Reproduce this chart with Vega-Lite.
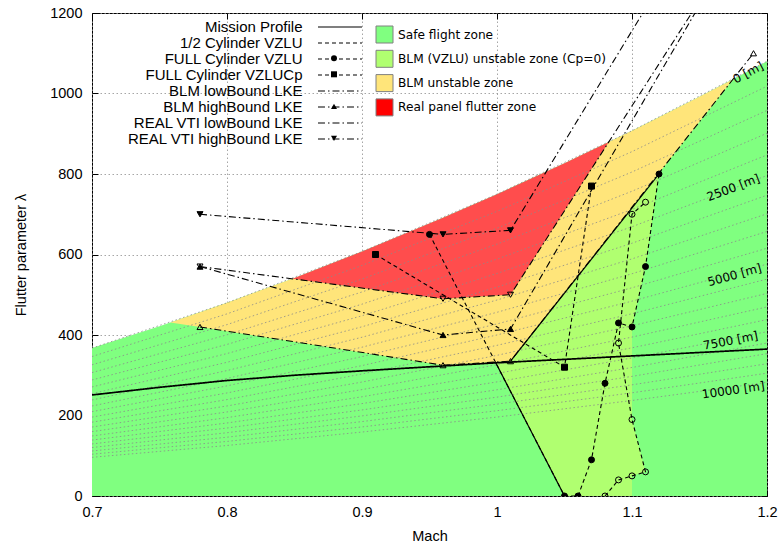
{
  "$schema": "https://vega.github.io/schema/vega-lite/v6.json",
  "width": 675,
  "height": 483,
  "autosize": {"type": "none"},
  "padding": {"left": 92, "top": 13, "right": 12, "bottom": 48},
  "background": "white",
  "config": {
    "view": {"stroke": "black", "strokeWidth": 1},
    "axis": {
      "domain": false, "tickColor": "black", "tickSize": -6, "tickWidth": 1,
      "labelFont": "Liberation Sans", "labelFontSize": 14.5, "labelColor": "black",
      "titleFont": "Liberation Sans", "titleFontSize": 14.5, "titleFontWeight": "normal", "titleColor": "black",
      "gridColor": "#8f8f8f", "gridDash": [1.5, 2.5], "gridWidth": 0.8, "zindex": 1
    },
    "legend": {"padding": 0, "offset": 0}
  },
  "datasets": {
    "zy": [
      {"zone": "Safe flight zone", "M": 0.7, "lo": 0, "hi": 367.5},
      {"zone": "Safe flight zone", "M": 0.75, "lo": 0, "hi": 421.9},
      {"zone": "Safe flight zone", "M": 0.8, "lo": 0, "hi": 480},
      {"zone": "Safe flight zone", "M": 0.85, "lo": 0, "hi": 541.9},
      {"zone": "Safe flight zone", "M": 0.9, "lo": 0, "hi": 607.5},
      {"zone": "Safe flight zone", "M": 0.95, "lo": 0, "hi": 676.9},
      {"zone": "Safe flight zone", "M": 1.0, "lo": 0, "hi": 750},
      {"zone": "Safe flight zone", "M": 1.05, "lo": 0, "hi": 826.9},
      {"zone": "Safe flight zone", "M": 1.1, "lo": 0, "hi": 907.5},
      {"zone": "Safe flight zone", "M": 1.15, "lo": 0, "hi": 991.9},
      {"zone": "Safe flight zone", "M": 1.2, "lo": 0, "hi": 1080},
      {"zone": "BLM unstable zone", "M": 0.758, "lo": 431, "hi": 431},
      {"zone": "BLM unstable zone", "M": 0.78, "lo": 420, "hi": 456.3},
      {"zone": "BLM unstable zone", "M": 0.8, "lo": 409.4, "hi": 480},
      {"zone": "BLM unstable zone", "M": 0.8485, "lo": 383.8, "hi": 539.9},
      {"zone": "BLM unstable zone", "M": 0.9, "lo": 356.7, "hi": 516.7},
      {"zone": "BLM unstable zone", "M": 0.96, "lo": 325, "hi": 490},
      {"zone": "BLM unstable zone", "M": 1.0, "lo": 333, "hi": 498},
      {"zone": "BLM unstable zone", "M": 1.01, "lo": 335, "hi": 500},
      {"zone": "BLM unstable zone", "M": 1.05, "lo": 505, "hi": 708.6},
      {"zone": "BLM unstable zone", "M": 1.0828, "lo": 644.4, "hi": 879.4},
      {"zone": "BLM unstable zone", "M": 1.1, "lo": 717.5, "hi": 907.5},
      {"zone": "BLM unstable zone", "M": 1.12, "lo": 802.5, "hi": 940.8},
      {"zone": "BLM unstable zone", "M": 1.15, "lo": 930, "hi": 991.9},
      {"zone": "BLM unstable zone", "M": 1.1748, "lo": 1035, "hi": 1035},
      {"zone": "Real panel flutter zone", "M": 0.8485, "lo": 539.6, "hi": 539.9},
      {"zone": "Real panel flutter zone", "M": 0.9, "lo": 516.7, "hi": 607.5},
      {"zone": "Real panel flutter zone", "M": 0.96, "lo": 490, "hi": 691.2},
      {"zone": "Real panel flutter zone", "M": 1.0, "lo": 498, "hi": 750},
      {"zone": "Real panel flutter zone", "M": 1.01, "lo": 500, "hi": 765.1},
      {"zone": "Real panel flutter zone", "M": 1.05, "lo": 708.6, "hi": 826.9},
      {"zone": "Real panel flutter zone", "M": 1.0828, "lo": 879.5, "hi": 879.5}
    ],
    "zx": [
      {"zone": "BLM (VZLU) unstable zone (Cp=0)", "lam": 0, "xl": 1.05, "xr": 1.10},
      {"zone": "BLM (VZLU) unstable zone (Cp=0)", "lam": 50, "xl": 1.0422, "xr": 1.10},
      {"zone": "BLM (VZLU) unstable zone (Cp=0)", "lam": 60, "xl": 1.0406, "xr": 1.11},
      {"zone": "BLM (VZLU) unstable zone (Cp=0)", "lam": 190, "xl": 1.0203, "xr": 1.10},
      {"zone": "BLM (VZLU) unstable zone (Cp=0)", "lam": 333, "xl": 0.9988, "xr": 1.10},
      {"zone": "BLM (VZLU) unstable zone (Cp=0)", "lam": 335, "xl": 1.01, "xr": 1.10},
      {"zone": "BLM (VZLU) unstable zone (Cp=0)", "lam": 420, "xl": 1.0301, "xr": 1.10},
      {"zone": "BLM (VZLU) unstable zone (Cp=0)", "lam": 570, "xl": 1.0656, "xr": 1.11},
      {"zone": "BLM (VZLU) unstable zone (Cp=0)", "lam": 800, "xl": 1.12, "xr": 1.12}
    ],
    "alt": [
      {"h": 0, "M": 0.7, "lam": 367.5}, {"h": 0, "M": 0.8, "lam": 480}, {"h": 0, "M": 0.9, "lam": 607.5}, {"h": 0, "M": 1.0, "lam": 750}, {"h": 0, "M": 1.1, "lam": 907.5}, {"h": 0, "M": 1.2, "lam": 1080},
      {"h": 500, "M": 0.7, "lam": 346.5}, {"h": 500, "M": 0.8, "lam": 452.5}, {"h": 500, "M": 0.9, "lam": 572.8}, {"h": 500, "M": 1.0, "lam": 707.1}, {"h": 500, "M": 1.1, "lam": 855.6}, {"h": 500, "M": 1.2, "lam": 1018.2},
      {"h": 1000, "M": 0.7, "lam": 326}, {"h": 1000, "M": 0.8, "lam": 425.8}, {"h": 1000, "M": 0.9, "lam": 538.9}, {"h": 1000, "M": 1.0, "lam": 665.3}, {"h": 1000, "M": 1.1, "lam": 805}, {"h": 1000, "M": 1.2, "lam": 958},
      {"h": 1500, "M": 0.7, "lam": 306.6}, {"h": 1500, "M": 0.8, "lam": 400.5}, {"h": 1500, "M": 0.9, "lam": 506.9}, {"h": 1500, "M": 1.0, "lam": 625.8}, {"h": 1500, "M": 1.1, "lam": 757.2}, {"h": 1500, "M": 1.2, "lam": 901.2},
      {"h": 2000, "M": 0.7, "lam": 288.3}, {"h": 2000, "M": 0.8, "lam": 376.6}, {"h": 2000, "M": 0.9, "lam": 476.6}, {"h": 2000, "M": 1.0, "lam": 588.5}, {"h": 2000, "M": 1.1, "lam": 712}, {"h": 2000, "M": 1.2, "lam": 847.4},
      {"h": 2500, "M": 0.7, "lam": 270.9}, {"h": 2500, "M": 0.8, "lam": 353.9}, {"h": 2500, "M": 0.9, "lam": 447.8}, {"h": 2500, "M": 1.0, "lam": 552.9}, {"h": 2500, "M": 1.1, "lam": 669}, {"h": 2500, "M": 1.2, "lam": 796.2},
      {"h": 3000, "M": 0.7, "lam": 254.3}, {"h": 3000, "M": 0.8, "lam": 332.2}, {"h": 3000, "M": 0.9, "lam": 420.4}, {"h": 3000, "M": 1.0, "lam": 519}, {"h": 3000, "M": 1.1, "lam": 628}, {"h": 3000, "M": 1.2, "lam": 747.4},
      {"h": 3500, "M": 0.7, "lam": 238.6}, {"h": 3500, "M": 0.8, "lam": 311.6}, {"h": 3500, "M": 0.9, "lam": 394.4}, {"h": 3500, "M": 1.0, "lam": 486.9}, {"h": 3500, "M": 1.1, "lam": 589.1}, {"h": 3500, "M": 1.2, "lam": 701.1},
      {"h": 4000, "M": 0.7, "lam": 223.6}, {"h": 4000, "M": 0.8, "lam": 292.1}, {"h": 4000, "M": 0.9, "lam": 369.7}, {"h": 4000, "M": 1.0, "lam": 456.4}, {"h": 4000, "M": 1.1, "lam": 552.2}, {"h": 4000, "M": 1.2, "lam": 657.2},
      {"h": 4500, "M": 0.7, "lam": 209.5}, {"h": 4500, "M": 0.8, "lam": 273.6}, {"h": 4500, "M": 0.9, "lam": 346.3}, {"h": 4500, "M": 1.0, "lam": 427.5}, {"h": 4500, "M": 1.1, "lam": 517.3}, {"h": 4500, "M": 1.2, "lam": 615.6},
      {"h": 5000, "M": 0.7, "lam": 196}, {"h": 5000, "M": 0.8, "lam": 256}, {"h": 5000, "M": 0.9, "lam": 324}, {"h": 5000, "M": 1.0, "lam": 400.1}, {"h": 5000, "M": 1.1, "lam": 484.1}, {"h": 5000, "M": 1.2, "lam": 576.1},
      {"h": 5500, "M": 0.7, "lam": 183.4}, {"h": 5500, "M": 0.8, "lam": 239.5}, {"h": 5500, "M": 0.9, "lam": 303.1}, {"h": 5500, "M": 1.0, "lam": 374.3}, {"h": 5500, "M": 1.1, "lam": 452.8}, {"h": 5500, "M": 1.2, "lam": 538.9},
      {"h": 6000, "M": 0.7, "lam": 171.3}, {"h": 6000, "M": 0.8, "lam": 223.7}, {"h": 6000, "M": 0.9, "lam": 283.1}, {"h": 6000, "M": 1.0, "lam": 349.5}, {"h": 6000, "M": 1.1, "lam": 422.9}, {"h": 6000, "M": 1.2, "lam": 503.3},
      {"h": 6500, "M": 0.7, "lam": 159.9}, {"h": 6500, "M": 0.8, "lam": 208.8}, {"h": 6500, "M": 0.9, "lam": 264.3}, {"h": 6500, "M": 1.0, "lam": 326.3}, {"h": 6500, "M": 1.1, "lam": 394.8}, {"h": 6500, "M": 1.2, "lam": 469.8},
      {"h": 7000, "M": 0.7, "lam": 149.1}, {"h": 7000, "M": 0.8, "lam": 194.7}, {"h": 7000, "M": 0.9, "lam": 246.5}, {"h": 7000, "M": 1.0, "lam": 304.3}, {"h": 7000, "M": 1.1, "lam": 368.2}, {"h": 7000, "M": 1.2, "lam": 438.2},
      {"h": 7500, "M": 0.7, "lam": 138.9}, {"h": 7500, "M": 0.8, "lam": 181.4}, {"h": 7500, "M": 0.9, "lam": 229.6}, {"h": 7500, "M": 1.0, "lam": 283.5}, {"h": 7500, "M": 1.1, "lam": 343}, {"h": 7500, "M": 1.2, "lam": 408.2},
      {"h": 8000, "M": 0.7, "lam": 129.3}, {"h": 8000, "M": 0.8, "lam": 168.9}, {"h": 8000, "M": 0.9, "lam": 213.8}, {"h": 8000, "M": 1.0, "lam": 263.9}, {"h": 8000, "M": 1.1, "lam": 319.3}, {"h": 8000, "M": 1.2, "lam": 380.1},
      {"h": 8500, "M": 0.7, "lam": 120.4}, {"h": 8500, "M": 0.8, "lam": 157.2}, {"h": 8500, "M": 0.9, "lam": 199}, {"h": 8500, "M": 1.0, "lam": 245.6}, {"h": 8500, "M": 1.1, "lam": 297.2}, {"h": 8500, "M": 1.2, "lam": 353.7},
      {"h": 9000, "M": 0.7, "lam": 111.8}, {"h": 9000, "M": 0.8, "lam": 146.1}, {"h": 9000, "M": 0.9, "lam": 184.9}, {"h": 9000, "M": 1.0, "lam": 228.2}, {"h": 9000, "M": 1.1, "lam": 276.2}, {"h": 9000, "M": 1.2, "lam": 328.6},
      {"h": 9500, "M": 0.7, "lam": 103.8}, {"h": 9500, "M": 0.8, "lam": 135.6}, {"h": 9500, "M": 0.9, "lam": 171.6}, {"h": 9500, "M": 1.0, "lam": 211.9}, {"h": 9500, "M": 1.1, "lam": 256.4}, {"h": 9500, "M": 1.2, "lam": 305.1},
      {"h": 10000, "M": 0.7, "lam": 96.1}, {"h": 10000, "M": 0.8, "lam": 125.5}, {"h": 10000, "M": 0.9, "lam": 158.9}, {"h": 10000, "M": 1.0, "lam": 196.1}, {"h": 10000, "M": 1.1, "lam": 237.3}, {"h": 10000, "M": 1.2, "lam": 282.4}
    ],
    "lbl": [
      {"txt": "0 [m]", "M": 1.186, "lam": 1052},
      {"txt": "2500 [m]", "M": 1.175, "lam": 766},
      {"txt": "5000 [m]", "M": 1.176, "lam": 549},
      {"txt": "7500 [m]", "M": 1.173, "lam": 386},
      {"txt": "10000 [m]", "M": 1.175, "lam": 263}
    ],
    "brd": [
      {"seg": "a", "M": 0.9988, "lam": 333}, {"seg": "a", "M": 1.05, "lam": 0},
      {"seg": "b", "M": 1.01, "lam": 335}, {"seg": "b", "M": 1.12, "lam": 800}
    ],
    "ser": [
      {"series": "Mission Profile", "o": 1, "M": 0.7, "lam": 251},
      {"series": "Mission Profile", "o": 2, "M": 0.75, "lam": 270},
      {"series": "Mission Profile", "o": 3, "M": 0.8, "lam": 287},
      {"series": "Mission Profile", "o": 4, "M": 0.85, "lam": 300},
      {"series": "Mission Profile", "o": 5, "M": 0.9, "lam": 311},
      {"series": "Mission Profile", "o": 6, "M": 0.95, "lam": 321},
      {"series": "Mission Profile", "o": 7, "M": 1.0, "lam": 331},
      {"series": "Mission Profile", "o": 8, "M": 1.1, "lam": 348},
      {"series": "Mission Profile", "o": 9, "M": 1.2, "lam": 365},
      {"series": "1/2 Cylinder VZLU", "o": 1, "M": 1.08, "lam": 0},
      {"series": "1/2 Cylinder VZLU", "o": 2, "M": 1.09, "lam": 40},
      {"series": "1/2 Cylinder VZLU", "o": 3, "M": 1.10, "lam": 50},
      {"series": "1/2 Cylinder VZLU", "o": 4, "M": 1.11, "lam": 60},
      {"series": "1/2 Cylinder VZLU", "o": 5, "M": 1.10, "lam": 190},
      {"series": "1/2 Cylinder VZLU", "o": 6, "M": 1.09, "lam": 380},
      {"series": "1/2 Cylinder VZLU", "o": 7, "M": 1.10, "lam": 700},
      {"series": "1/2 Cylinder VZLU", "o": 8, "M": 1.11, "lam": 730},
      {"series": "FULL Cylinder VZLU", "o": 1, "M": 0.95, "lam": 650},
      {"series": "FULL Cylinder VZLU", "o": 2, "M": 1.05, "lam": 0},
      {"series": "FULL Cylinder VZLU", "o": 3, "M": 1.06, "lam": 0},
      {"series": "FULL Cylinder VZLU", "o": 4, "M": 1.07, "lam": 90},
      {"series": "FULL Cylinder VZLU", "o": 5, "M": 1.08, "lam": 280},
      {"series": "FULL Cylinder VZLU", "o": 6, "M": 1.09, "lam": 430},
      {"series": "FULL Cylinder VZLU", "o": 7, "M": 1.10, "lam": 420},
      {"series": "FULL Cylinder VZLU", "o": 8, "M": 1.11, "lam": 570},
      {"series": "FULL Cylinder VZLU", "o": 9, "M": 1.12, "lam": 800},
      {"series": "FULL Cylinder VZLUCp", "o": 1, "M": 0.91, "lam": 600},
      {"series": "FULL Cylinder VZLUCp", "o": 2, "M": 1.05, "lam": 320},
      {"series": "FULL Cylinder VZLUCp", "o": 3, "M": 1.07, "lam": 770},
      {"series": "BLM lowBound LKE", "o": 1, "M": 0.78, "lam": 420},
      {"series": "BLM lowBound LKE", "o": 2, "M": 0.96, "lam": 325},
      {"series": "BLM lowBound LKE", "o": 3, "M": 1.01, "lam": 335},
      {"series": "BLM lowBound LKE", "o": 4, "M": 1.19, "lam": 1100},
      {"series": "BLM highBound LKE", "o": 1, "M": 0.78, "lam": 570},
      {"series": "BLM highBound LKE", "o": 2, "M": 0.96, "lam": 400},
      {"series": "BLM highBound LKE", "o": 3, "M": 1.01, "lam": 415},
      {"series": "BLM highBound LKE", "o": 4, "M": 1.15, "lam": 1219},
      {"series": "REAL VTI lowBound LKE", "o": 1, "M": 0.78, "lam": 570},
      {"series": "REAL VTI lowBound LKE", "o": 2, "M": 0.96, "lam": 490},
      {"series": "REAL VTI lowBound LKE", "o": 3, "M": 1.01, "lam": 500},
      {"series": "REAL VTI lowBound LKE", "o": 4, "M": 1.15, "lam": 1230},
      {"series": "REAL VTI highBound LKE", "o": 1, "M": 0.78, "lam": 700},
      {"series": "REAL VTI highBound LKE", "o": 2, "M": 0.96, "lam": 650},
      {"series": "REAL VTI highBound LKE", "o": 3, "M": 1.01, "lam": 660},
      {"series": "REAL VTI highBound LKE", "o": 4, "M": 1.12, "lam": 1266}
    ]
  },
  "layer": [
    {
      "data": {"name": "zy"},
      "transform": [{"filter": "datum.zone === 'Safe flight zone'"}],
      "mark": {"type": "area", "clip": true, "opacity": 1},
      "encoding": {
        "x": {"field": "M", "type": "quantitative",
          "scale": {"domain": [0.7, 1.2], "nice": false, "zero": false},
          "axis": {"values": [0.7, 0.8, 0.9, 1.0, 1.1, 1.2], "format": "~g", "title": "Mach", "labelPadding": 15, "titlePadding": 11, "grid": true, "labelFlush": false}},
        "y": {"field": "lo", "type": "quantitative",
          "scale": {"domain": [0, 1200], "nice": false, "zero": false},
          "axis": {"values": [0, 200, 400, 600, 800, 1000, 1200], "format": "d", "title": "Flutter parameter λ", "labelPadding": 16, "titlePadding": 21, "grid": true}},
        "y2": {"field": "hi"},
        "color": {"field": "zone", "type": "nominal",
          "scale": {"domain": ["Safe flight zone", "BLM (VZLU) unstable zone (Cp=0)", "BLM unstable zone", "Real panel flutter zone"],
                    "range": ["#80ff80", "#b0ff70", "#ffe57a", "#ff0000"]},
          "legend": {"orient": "none", "legendX": 283.5, "legendY": 12.5, "title": null, "symbolType": "square", "symbolSize": 289,
                     "symbolStrokeColor": "#808080", "symbolStrokeWidth": 1, "symbolOpacity": 1, "rowPadding": 2.3,
                     "labelFont": "DejaVu Sans", "labelFontSize": 12.2, "labelColor": "black", "labelOffset": 4.5, "labelLimit": 400, "padding": 0}}
      }
    },
    {
      "data": {"name": "zy"},
      "transform": [{"filter": "datum.zone === 'BLM unstable zone'"}],
      "mark": {"type": "area", "clip": true, "opacity": 1},
      "encoding": {
        "x": {"field": "M", "type": "quantitative", "axis": null},
        "y": {"field": "lo", "type": "quantitative", "axis": null},
        "y2": {"field": "hi"},
        "color": {"field": "zone", "type": "nominal"}
      }
    },
    {
      "data": {"name": "zy"},
      "transform": [{"filter": "datum.zone === 'Real panel flutter zone'"}],
      "mark": {"type": "area", "clip": true, "opacity": 1, "color": "#ff4d4d"},
      "encoding": {
        "x": {"field": "M", "type": "quantitative", "axis": null},
        "y": {"field": "lo", "type": "quantitative", "axis": null},
        "y2": {"field": "hi"}
      }
    },
    {
      "data": {"name": "zx"},
      "mark": {"type": "area", "orient": "horizontal", "clip": true, "opacity": 1},
      "encoding": {
        "y": {"field": "lam", "type": "quantitative", "axis": null},
        "x": {"field": "xl", "type": "quantitative", "axis": null},
        "x2": {"field": "xr"},
        "color": {"field": "zone", "type": "nominal"}
      }
    },
    {
      "data": {"name": "alt"},
      "mark": {"type": "line", "clip": true, "stroke": "#8a8a8a", "strokeWidth": 0.8, "strokeDash": [1.5, 2.5]},
      "encoding": {
        "x": {"field": "M", "type": "quantitative", "axis": null},
        "y": {"field": "lam", "type": "quantitative", "axis": null},
        "detail": {"field": "h", "type": "nominal"}
      }
    },
    {
      "data": {"name": "lbl"},
      "transform": [{"filter": "datum.txt === '0 [m]'"}],
      "mark": {"type": "text", "angle": -28, "font": "DejaVu Sans", "fontSize": 12, "color": "black", "clip": true},
      "encoding": {"x": {"field": "M", "type": "quantitative", "axis": null}, "y": {"field": "lam", "type": "quantitative", "axis": null}, "text": {"field": "txt"}}
    },
    {
      "data": {"name": "lbl"},
      "transform": [{"filter": "datum.txt === '2500 [m]'"}],
      "mark": {"type": "text", "angle": -21, "font": "DejaVu Sans", "fontSize": 12, "color": "black"},
      "encoding": {"x": {"field": "M", "type": "quantitative", "axis": null}, "y": {"field": "lam", "type": "quantitative", "axis": null}, "text": {"field": "txt"}}
    },
    {
      "data": {"name": "lbl"},
      "transform": [{"filter": "datum.txt === '5000 [m]'"}],
      "mark": {"type": "text", "angle": -15.5, "font": "DejaVu Sans", "fontSize": 12, "color": "black"},
      "encoding": {"x": {"field": "M", "type": "quantitative", "axis": null}, "y": {"field": "lam", "type": "quantitative", "axis": null}, "text": {"field": "txt"}}
    },
    {
      "data": {"name": "lbl"},
      "transform": [{"filter": "datum.txt === '7500 [m]'"}],
      "mark": {"type": "text", "angle": -11, "font": "DejaVu Sans", "fontSize": 12, "color": "black"},
      "encoding": {"x": {"field": "M", "type": "quantitative", "axis": null}, "y": {"field": "lam", "type": "quantitative", "axis": null}, "text": {"field": "txt"}}
    },
    {
      "data": {"name": "lbl"},
      "transform": [{"filter": "datum.txt === '10000 [m]'"}],
      "mark": {"type": "text", "angle": -8, "font": "DejaVu Sans", "fontSize": 12, "color": "black"},
      "encoding": {"x": {"field": "M", "type": "quantitative", "axis": null}, "y": {"field": "lam", "type": "quantitative", "axis": null}, "text": {"field": "txt"}}
    },
    {
      "data": {"name": "brd"},
      "mark": {"type": "line", "color": "black", "strokeWidth": 1.2, "clip": true},
      "encoding": {
        "x": {"field": "M", "type": "quantitative",
          "axis": {"orient": "top", "labels": false, "grid": false, "title": null, "values": [0.7, 0.8, 0.9, 1.0, 1.1, 1.2]}},
        "y": {"field": "lam", "type": "quantitative",
          "axis": {"orient": "right", "labels": false, "grid": false, "title": null, "values": [0, 200, 400, 600, 800, 1000, 1200]}},
        "detail": {"field": "seg", "type": "nominal"}
      }
    },
    {
      "data": {"name": "ser"},
      "mark": {"type": "line", "color": "black", "clip": true},
      "encoding": {
        "x": {"field": "M", "type": "quantitative", "axis": null},
        "y": {"field": "lam", "type": "quantitative", "axis": null},
        "order": {"field": "o", "type": "quantitative"},
        "strokeWidth": {"condition": {"test": "datum.series === 'Mission Profile'", "value": 1.7}, "value": 1.1},
        "strokeDash": {"field": "series", "type": "nominal",
          "scale": {"domain": ["Mission Profile", "1/2 Cylinder VZLU", "FULL Cylinder VZLU", "FULL Cylinder VZLUCp", "BLM lowBound LKE", "BLM highBound LKE", "REAL VTI lowBound LKE", "REAL VTI highBound LKE"],
                    "range": [[1, 0], [4, 3], [4, 3], [4, 3], [7, 3, 1.5, 3], [7, 3, 1.5, 3], [7, 3, 1.5, 3], [7, 3, 1.5, 3]]},
          "legend": {"orient": "none", "legendX": 240.5, "legendY": 6.5, "title": null, "symbolType": "M-3.67,0H3.67", "symbolSize": 144,
                     "symbolStrokeColor": "black", "symbolStrokeWidth": 1.1, "labelAlign": "right", "labelOffset": -45,
                     "labelFont": "Liberation Sans", "labelFontSize": 15, "labelColor": "black", "labelLimit": 300, "rowPadding": -0.7, "padding": 0}}
      }
    },
    {
      "data": {"name": "ser"},
      "transform": [{"filter": "datum.series !== 'Mission Profile'"}],
      "mark": {"type": "point", "filled": false, "stroke": "black", "strokeWidth": 1, "size": 36, "opacity": 1, "clip": true},
      "encoding": {
        "x": {"field": "M", "type": "quantitative", "axis": null},
        "y": {"field": "lam", "type": "quantitative", "axis": null},
        "shape": {"field": "series", "type": "nominal",
          "scale": {"domain": ["1/2 Cylinder VZLU", "FULL Cylinder VZLU", "FULL Cylinder VZLUCp", "BLM lowBound LKE", "BLM highBound LKE", "REAL VTI lowBound LKE", "REAL VTI highBound LKE"],
                    "range": ["circle", "circle", "square", "triangle-up", "triangle-up", "triangle-down", "triangle-down"]},
          "legend": {"orient": "none", "legendX": 234.5, "legendY": 21.8, "title": null, "symbolSize": 36, "symbolStrokeColor": "black", "symbolStrokeWidth": 1,
                     "labelFont": "Liberation Sans", "labelFontSize": 15, "labelExpr": "' '", "rowPadding": -0.7, "padding": 0}},
        "fill": {"field": "series", "type": "nominal",
          "scale": {"domain": ["1/2 Cylinder VZLU", "FULL Cylinder VZLU", "FULL Cylinder VZLUCp", "BLM lowBound LKE", "BLM highBound LKE", "REAL VTI lowBound LKE", "REAL VTI highBound LKE"],
                    "range": ["transparent", "black", "black", "transparent", "black", "transparent", "black"]},
          "legend": {"orient": "none", "legendX": 234.5, "legendY": 21.8, "title": null, "symbolSize": 36, "symbolStrokeColor": "black", "symbolStrokeWidth": 1,
                     "labelFont": "Liberation Sans", "labelFontSize": 15, "labelExpr": "' '", "rowPadding": -0.7, "padding": 0}}
      }
    }
  ],
  "resolve": {"axis": {"x": "independent", "y": "independent"}}
}
